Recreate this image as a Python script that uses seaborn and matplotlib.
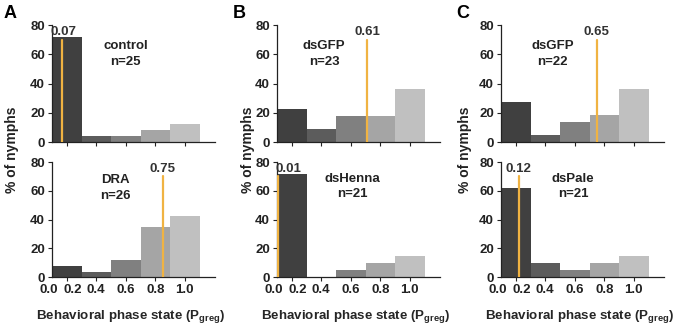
import matplotlib
matplotlib.use("Agg")
import matplotlib.pyplot as plt
from matplotlib.transforms import ScaledTranslation
import seaborn as sns
import pandas as pd

sns.set_theme(style="ticks")
plt.rcParams['font.family'] = ['Liberation Sans', 'DejaVu Sans']
plt.rcParams['font.weight'] = 'bold'
plt.rcParams['mathtext.fontset'] = 'custom'
plt.rcParams['mathtext.rm'] = 'Liberation Sans:bold'
plt.rcParams['mathtext.it'] = 'Liberation Sans:bold'
plt.rcParams['mathtext.bf'] = 'Liberation Sans:bold'
NARROW = ['Liberation Sans Narrow', 'Liberation Sans', 'DejaVu Sans']

# bin centres (0-0.2, 0.2-0.4, ...), tick labels
bin_centers = [0.1, 0.3, 0.5, 0.7, 0.9]
bin_labels = ["0.2", "0.4", "0.6", "0.8", "1.0"]
bar_colors = ["#404040", "#5c5c5c", "#808080", "#a5a5a5", "#c0c0c0"]

# percentages of nymphs per bin
control = [72, 4, 4, 8, 12]
dra = [7.7, 3.8, 11.5, 34.6, 42.3]
dsgfp_b = [22.6, 9, 18, 18, 36]
dshenna = [71.4, 0, 4.8, 9.5, 14.3]
dsgfp_c = [27.3, 4.5, 13.6, 18.2, 36.4]
dspale = [61.9, 9.5, 4.8, 9.5, 14.3]

# mean Pgreg (orange line)
means = [0.07, 0.75, 0.61, 0.01, 0.65, 0.12]
groups = ["control\nn=25", "DRA\nn=26", "dsGFP\nn=23", "dsHenna\nn=21", "dsGFP\nn=22", "dsPale\nn=21"]
series = [control, dra, dsgfp_b, dshenna, dsgfp_c, dspale]
label_pos = [(0.50, 60), (0.43, 62), (0.32, 60), (0.51, 63), (0.35, 60), (0.49, 63)]

W, H = 678, 336
fig = plt.figure(figsize=(W / 100, H / 100), dpi=100)

lefts = [52, 277, 501]
axw = 163
rows = [(25, 142), (162, 277)]
line_color = "#f0b342"
txt_color = '#222222'

for col in range(3):
    for row in range(2):
        idx = col * 2 + row
        top_px, bot_px = rows[row]
        ax = fig.add_axes([lefts[col] / W, (H - bot_px) / H, axw / W, (bot_px - top_px) / H])
        df = pd.DataFrame({"pos": bin_centers, "pct": series[idx], "bin": bin_labels})
        sns.barplot(data=df, x="pos", y="pct", hue="bin", palette=bar_colors,
                    native_scale=True, width=1.0, saturation=1, linewidth=0,
                    legend=False, ax=ax, dodge=False)
        ax.set_xlim(0, 1.105)
        ax.set_ylim(0, 80)
        ax.set_yticks([0, 20, 40, 60, 80])
        ax.set_yticklabels(["0", "20", "40", "60", "80"], family=NARROW, fontsize=9.5,
                           fontweight='bold')
        sns.despine(ax=ax)
        ax.set_xlabel("")
        ax.set_ylabel("")
        ax.tick_params(axis='both', length=3, width=0.8, pad=2, colors=txt_color)
        if row == 1:
            ax.set_xticks([0] + bin_centers)
            ax.set_xticklabels(["0.0"] + bin_labels, family=NARROW, fontsize=9.5,
                               fontweight='bold')
            ax.xaxis.get_major_ticks()[0].tick1line.set_visible(False)
            labs = ax.get_xticklabels()
            labs[0].set_transform(labs[0].get_transform() + ScaledTranslation(-0.03, 0, fig.dpi_scale_trans))
            labs[1].set_transform(labs[1].get_transform() + ScaledTranslation(0.055, 0, fig.dpi_scale_trans))
            ax.set_xlabel(r"Behavioral phase state (P$_{\mathrm{greg}}$)", fontsize=9.6,
                          fontweight='bold', labelpad=9)
            ax.xaxis.set_label_coords(0.485, -0.27)
        else:
            ax.set_xticks(bin_centers)
            ax.set_xticklabels([])
        for s in ax.spines.values():
            s.set_linewidth(0.9)
            s.set_color(txt_color)
        m = means[idx]
        ax.plot([m, m], [0, 70], color=line_color, lw=1.6, zorder=5)
        ax.text(max(m, 0.075), 71, f"{m:.2f}", ha='center', va='bottom', fontsize=9.5,
                family=NARROW, fontweight='bold', color='#333333')
        lx, ly = label_pos[idx]
        ax.text(lx, ly, groups[idx], ha='center', va='center', fontsize=9.5,
                family=NARROW, fontweight='bold', color=txt_color, linespacing=1.4)

for x in [12, 248, 465]:
    fig.text(x / W, 0.555, "% of nymphs", rotation=90, ha='center', va='center',
             fontsize=10, fontweight='bold', color=txt_color)
for x, lt in zip([10, 239, 463], ["A", "B", "C"]):
    fig.text(x / W, (H - 13) / H, lt, ha='center', va='center', fontsize=13,
             fontweight='bold', color='black')

fig.savefig("out.png", dpi=100, facecolor='white')
